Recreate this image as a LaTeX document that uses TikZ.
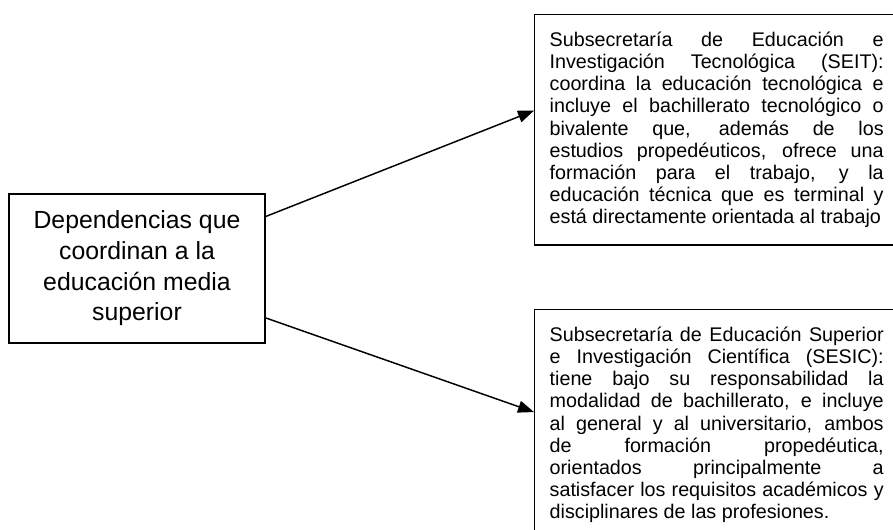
\documentclass[tikz,border=0pt]{standalone}
\usepackage{fontspec}
\setmainfont{Liberation Sans}
\usetikzlibrary{arrows.meta}

\tolerance=10000
\hbadness=10000
\hyphenpenalty=10000
\tikzstyle{mainbox}=[draw,line width=1pt,minimum width=192pt,minimum height=111.75pt,align=center,font=\fontsize{18.6}{23}\selectfont]
\tikzstyle{infobox}=[draw,line width=1pt,anchor=north west,text width=250.5pt,inner xsep=11.25pt,inner ysep=13pt,align=justify,font=\fontsize{14.8}{16.6}\selectfont]
\tikzstyle{link}=[draw,line width=1.1pt,-{Triangle[length=12pt,width=9pt]}]
\newcommand{\pxunit}{0.75pt}
\newcommand{\infoend}{\rule[-3pt]{0pt}{3pt}}

\begin{document}
\begin{tikzpicture}[x=\pxunit, y=-\pxunit]
    \useasboundingbox (0,0) rectangle (893,529);
    % First we draw the boxes
    \node[mainbox] (main) at (137,268.5) {Dependencias que\\coordinan a la\\educación media\\superior};
    \node[infobox] (seit) at (534,14) {Subsecretaría de Educación e\linebreak
        Investigación Tecnológica (SEIT):\linebreak
        coordina la educación tecnológica e\linebreak
        incluye el bachillerato tecnológico o\linebreak
        bivalente que, además de los\linebreak
        estudios propedéuticos, ofrece una\linebreak
        formación para el trabajo, y la\linebreak
        educación técnica que es terminal y\linebreak
        está directamente orientada al trabajo\infoend};
    \node[infobox] (sesic) at (534,309) {Subsecretaría de Educación Superior\linebreak
        e Investigación Científica (SESIC):\linebreak
        tiene bajo su responsabilidad la\linebreak
        modalidad de bachillerato, e incluye\linebreak
        al general y al universitario, ambos\linebreak
        de formación propedéutica,\linebreak
        orientados principalmente a\linebreak
        satisfacer los requisitos académicos y\linebreak
        disciplinares de las profesiones.\infoend};
    % Connect the boxes with arrows
    \foreach \source/\dest in {main.22/seit.174, main.339/sesic.176}
        \path[link] (\source) -- (\dest);
\end{tikzpicture}
\end{document}
